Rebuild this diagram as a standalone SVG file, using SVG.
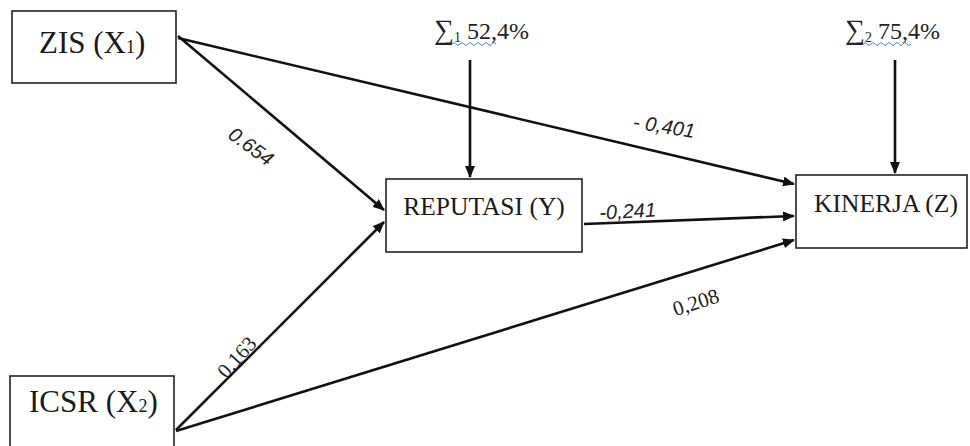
<svg xmlns="http://www.w3.org/2000/svg" width="970" height="446" viewBox="0 0 970 446">
  <defs>
    <marker id="arrow" viewBox="0 0 12 10" refX="11" refY="5" markerWidth="12" markerHeight="10" markerUnits="userSpaceOnUse" orient="auto">
      <path d="M0,0 L12,5 L0,10 Z" fill="#111"/>
    </marker>
    <style>
      .box { fill: #fff; stroke: #222; stroke-width: 1.6; }
      .serif { font-family: "Liberation Serif", "Times New Roman", Tinos, "DejaVu Serif", serif; }
      .big { font-size: 31px; fill: #1a1a1a; }
      .mid { font-size: 25.5px; fill: #1a1a1a; }
      .link { fill: none; stroke: #111; stroke-width: 2.6; marker-end: url(#arrow); }
      .coef { font-family: "Liberation Sans", Arial, sans-serif; font-style: italic; font-size: 20px; fill: #222; }
      .coefs { font-size: 21px; fill: #222; }
      .err { font-size: 24px; fill: #222; }
      .squiggle { fill: none; stroke: #5b7fc8; stroke-width: 1; }
    </style>
  </defs>

  <rect width="970" height="446" fill="#fff"/>

  <!-- connectors -->
  <g id="connectors">
    <line class="link" x1="178" y1="36" x2="384" y2="210"/>
    <line class="link" x1="178" y1="38" x2="794" y2="184"/>
    <line class="link" x1="176" y1="430" x2="384" y2="222"/>
    <line class="link" x1="176" y1="431" x2="794" y2="240"/>
    <line class="link" x1="584" y1="224" x2="794" y2="216"/>
    <line class="link" x1="470" y1="60" x2="470" y2="177"/>
    <line class="link" x1="895" y1="60" x2="895" y2="173"/>
  </g>

  <!-- path coefficients -->
  <g id="coefficients">
    <text class="coef" transform="translate(247,152) rotate(36)" text-anchor="middle">0.654</text>
    <text class="coefs serif" transform="translate(242,362) rotate(-48)" text-anchor="middle">0.163</text>
    <text class="coef" transform="translate(663,133) rotate(9)" text-anchor="middle">- 0,401</text>
    <text class="coef" transform="translate(628,218) rotate(-3)" text-anchor="middle">-0,241</text>
    <text class="coefs serif" transform="translate(698,309) rotate(-18)" text-anchor="middle">0,208</text>
  </g>

  <!-- residual variances -->
  <g id="error-y">
    <text class="err serif" x="434" y="39"><tspan font-size="28">∑</tspan><tspan font-size="14" dy="3">1</tspan><tspan dy="-3"> 52,4%</tspan></text>
    <path class="squiggle" d="M452,44 q2,-3 4,0 t4,0 t4,0 t4,0 t4,0 t4,0 t4,0 t4,0 t4,0 t4,0 t4,0"/>
  </g>
  <g id="error-z">
    <text class="err serif" x="845" y="39"><tspan font-size="28">∑</tspan><tspan font-size="14" dy="3">2</tspan><tspan dy="-3"> 75,4%</tspan></text>
    <path class="squiggle" d="M863,44 q2,-3 4,0 t4,0 t4,0 t4,0 t4,0 t4,0 t4,0 t4,0 t4,0 t4,0 t4,0 t4,0"/>
  </g>

  <!-- nodes -->
  <g id="zis">
    <rect class="box" x="12" y="11" width="164" height="72"/>
    <text class="big serif" x="39" y="53">ZIS (X<tspan font-size="18">1</tspan>)</text>
  </g>
  <g id="icsr">
    <rect class="box" x="10" y="376" width="164" height="80"/>
    <text class="big serif" x="29" y="412">ICSR (X<tspan font-size="18">2</tspan>)</text>
  </g>
  <g id="reputasi">
    <rect class="box" x="386" y="179" width="196" height="73"/>
    <text class="mid serif" x="484" y="215" text-anchor="middle">REPUTASI (Y)</text>
  </g>
  <g id="kinerja">
    <rect class="box" x="796" y="175" width="171" height="73"/>
    <text class="mid serif" x="886" y="212" text-anchor="middle">KINERJA (Z)</text>
  </g>
</svg>
